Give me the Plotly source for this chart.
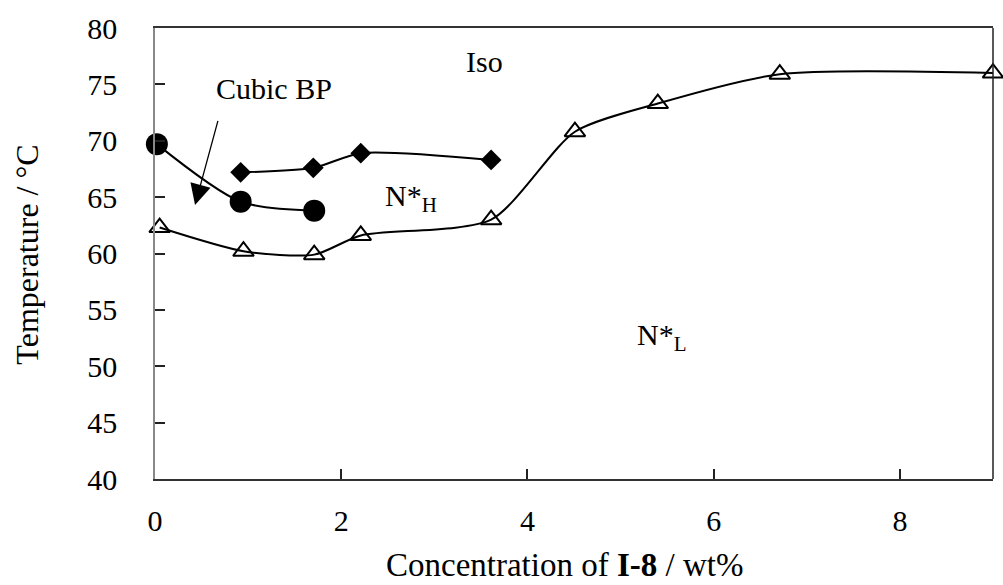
import plotly.graph_objects as go

# Data
conc_NL = [0.05, 0.95, 1.71, 2.21, 3.61, 4.51, 5.40, 6.71, 9.0]
temp_NL = [62.3, 60.2, 59.9, 61.6, 63.0, 70.8, 73.3, 75.9, 76.0]

conc_BP = [0.02, 0.92, 1.71]
temp_BP = [69.7, 64.6, 63.8]

conc_NH = [0.92, 1.70, 2.21, 3.61]
temp_NH = [67.2, 67.6, 68.9, 68.3]

x_ticks = [0, 2, 4, 6, 8]
y_ticks = [40, 45, 50, 55, 60, 65, 70, 75, 80]

FONT = "Liberation Serif, Times New Roman, serif"

fig = go.Figure()
fig.add_trace(go.Scatter(
    x=conc_NL, y=temp_NL, mode="lines+markers",
    line=dict(color="black", width=2, shape="spline", smoothing=0.7),
    marker=dict(symbol="triangle-up-open", size=18, color="black", line=dict(width=2)),
    cliponaxis=False, showlegend=False))
fig.add_trace(go.Scatter(
    x=conc_BP, y=temp_BP, mode="lines+markers",
    line=dict(color="black", width=2, shape="spline", smoothing=0.8),
    marker=dict(symbol="circle", size=22, color="black"),
    cliponaxis=False, showlegend=False))
fig.add_trace(go.Scatter(
    x=conc_NH, y=temp_NH, mode="lines+markers",
    line=dict(color="black", width=2, shape="spline", smoothing=0.7),
    marker=dict(symbol="diamond", size=16, color="black"),
    cliponaxis=False, showlegend=False))

ann_font = dict(family=FONT, size=30, color="black")
fig.add_annotation(x=3.54, y=77.0, text="Iso", showarrow=False, font=ann_font)
fig.add_annotation(x=1.28, y=74.6, text="Cubic BP", showarrow=False, font=ann_font)
fig.add_annotation(x=2.75, y=64.9, text="N*<sub>H</sub>", showarrow=False, font=ann_font)
fig.add_annotation(x=5.45, y=52.6, text="N*<sub>L</sub>", showarrow=False, font=ann_font)
fig.add_annotation(x=0.43, y=64.3, ax=0.68, ay=71.9, axref="x", ayref="y", text="",
                   showarrow=True, arrowhead=2, arrowsize=3.2, arrowwidth=1.3, arrowcolor="black")

# axis titles
fig.add_annotation(xref="paper", yref="paper", x=0.489, y=-0.19, text="Concentration of <b>I-8</b> / wt%",
                   showarrow=False, font=dict(family=FONT, size=33, color="black"),
                   xanchor="center", yanchor="middle")
fig.add_annotation(xref="paper", yref="paper", x=-0.153, y=0.497, text="Temperature / °C",
                   showarrow=False, textangle=-90, font=dict(family=FONT, size=32, color="black"),
                   xanchor="center", yanchor="middle")

# right border
fig.add_shape(type="line", xref="paper", yref="paper", x0=1, x1=1, y0=0, y1=1,
              line=dict(color="#222", width=1.5))

fig.update_layout(
    width=1003, height=585,
    margin=dict(l=155, r=10, t=28, b=106),
    paper_bgcolor="white", plot_bgcolor="white",
    font=dict(family=FONT, size=30, color="black"),
    xaxis=dict(range=[0, 9], tickvals=x_ticks, ticks="inside", ticklen=10, tickwidth=1.5,
               tickcolor="#222", showline=True, linecolor="#333", linewidth=2, mirror=True,
               showgrid=False, zeroline=False, ticklabelstandoff=14, automargin=False,
               tickfont=dict(family=FONT, size=30)),
    yaxis=dict(range=[40, 80], tickvals=y_ticks,
               ticktext=[f"{v}\u2007\u2007" for v in y_ticks],
               ticks="inside", ticklen=10, tickwidth=1.5,
               tickcolor="#222", showline=True, linecolor="#888", linewidth=1.5,
               showgrid=False, zeroline=False, automargin=False,
               tickfont=dict(family=FONT, size=30)),
)

fig.write_html("out.html", config={"displayModeBar": False},
               post_script="document.body.style.margin='0';document.body.style.overflow='hidden';")
